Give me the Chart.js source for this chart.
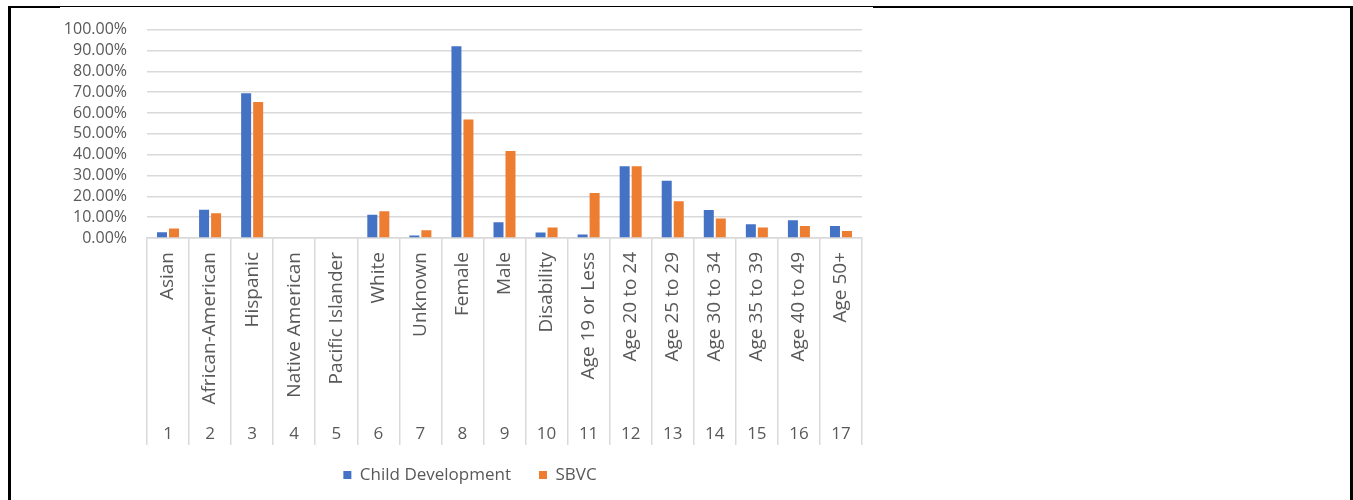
<!DOCTYPE html>
<html>
<head>
<meta charset="utf-8">
<script src="https://cdn.jsdelivr.net/npm/chart.js@4.4.0/dist/chart.umd.min.js"></script>
<style>
  html, body { margin: 0; padding: 0; background: #fff; }
  #wrap { position: relative; width: 1353px; height: 500px; overflow: hidden; }
  #c { position: absolute; left: 0; top: 0; }
  .ln { position: absolute; background: #000; }
</style>
</head>
<body>
<div id="wrap">
  <canvas id="c" width="1353" height="500"></canvas>
  <div class="ln" style="left:8px;top:6px;width:3px;height:494px;"></div>
  <div class="ln" style="left:8px;top:6px;width:865px;height:1px;"></div>
  <div class="ln" style="left:8px;top:6px;width:52px;height:2px;"></div>
  <div class="ln" style="left:873px;top:6px;width:480px;height:2px;"></div>
  <div class="ln" style="left:1350px;top:6px;width:3px;height:494px;"></div>
</div>
<script>
const categories = ['Asian', 'African-American', 'Hispanic', 'Native American', 'Pacific Islander', 'White', 'Unknown', 'Female', 'Male', 'Disability', 'Age 19 or Less', 'Age 20 to 24', 'Age 25 to 29', 'Age 30 to 34', 'Age 35 to 39', 'Age 40 to 49', 'Age 50+'];
const categoryNumbers = ['1', '2', '3', '4', '5', '6', '7', '8', '9', '10', '11', '12', '13', '14', '15', '16', '17'];
const childDevelopment = [0.028, 0.135, 0.695, 0, 0, 0.111, 0.012, 0.92, 0.075, 0.026, 0.017, 0.344, 0.275, 0.134, 0.066, 0.085, 0.058];
const sbvc = [0.045, 0.119, 0.652, 0, 0, 0.128, 0.037, 0.569, 0.418, 0.050, 0.216, 0.344, 0.176, 0.093, 0.050, 0.058, 0.033];
const yTicks = [0, 0.1, 0.2, 0.3, 0.4, 0.5, 0.6, 0.7, 0.8, 0.9, 1.0];

const FONT = '"Open Sans", "Noto Sans", sans-serif';
const TXT = '#595959';
const GRID = '#d9d9d9';

new Chart(document.getElementById('c').getContext('2d'), {
  type: 'bar',
  data: {
    labels: categories,
    datasets: [
      { label: 'Child Development', data: childDevelopment, backgroundColor: '#4472C4', xAxisID: 'x', categoryPercentage: 0.571, barPercentage: 0.833 },
      { label: 'SBVC', data: sbvc, backgroundColor: '#ED7D31', xAxisID: 'x', categoryPercentage: 0.571, barPercentage: 0.833 }
    ]
  },
  options: {
    responsive: false,
    animation: false,
    layout: { padding: { left: 78, right: 491, top: 25, bottom: 6.5 } },
    plugins: {
      legend: {
        position: 'bottom',
        labels: { boxWidth: 8, boxHeight: 8, padding: 28, color: TXT, font: { family: FONT, size: 17 } }
      },
      tooltip: { enabled: false }
    },
    scales: {
      y: {
        min: 0, max: 1,
        afterBuildTicks: s => { s.ticks = yTicks.map(v => ({ value: v })); },
        afterFit: s => {
          s.width = 69;
          s._computeLabelArea = () => ({ top: 0, left: 60, bottom: 500, right: s.right });
        },
        ticks: { autoSkip: false, padding: 20, color: TXT, font: { family: FONT, size: 16 }, callback: v => (v * 100).toFixed(2) + '%' },
        grid: { color: GRID, drawTicks: false, lineWidth: 1.5 },
        border: { display: false }
      },
      x: {
        type: 'category',
        position: 'bottom',
        weight: 1,
        offset: true,
        afterFit: s => { s.height = 177; },
        grid: { offset: true, drawOnChartArea: false, tickLength: 207, color: GRID, lineWidth: 1.5 },
        border: { display: true, color: GRID, width: 1.5 },
        ticks: { minRotation: 90, maxRotation: 90, autoSkip: false, padding: -193, color: TXT, font: { family: FONT, size: 19 } }
      },
      x2: {
        type: 'category',
        labels: categoryNumbers,
        position: 'bottom',
        weight: 2,
        offset: true,
        afterFit: s => {
          s.height = 23.5;
          s._computeLabelArea = () => undefined;
        },
        grid: { display: false },
        border: { display: false },
        ticks: { autoSkip: false, maxRotation: 0, minRotation: 0, padding: 1, color: TXT, font: { family: FONT, size: 17 } }
      }
    }
  }
});
</script>
</body>
</html>
